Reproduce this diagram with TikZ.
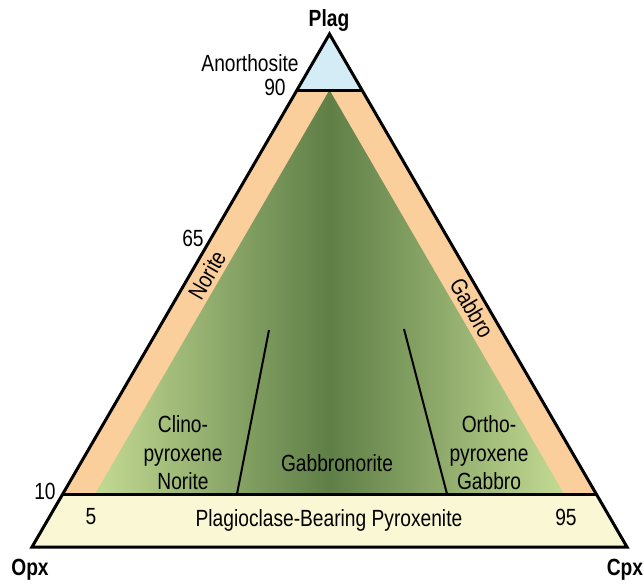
\documentclass[tikz,border=0pt]{standalone}
\usepackage{fontspec}
\setmainfont{Liberation Sans}[FakeStretch=0.82]
\usepackage{tikz}
\usetikzlibrary{calc}
\definecolor{plag-blue}{HTML}{D3ECF5}
\definecolor{band-orange}{HTML}{FBCF9C}
\definecolor{pyx-yellow}{HTML}{FAF7D5}
\definecolor{grn-light}{HTML}{C3DA93}
\definecolor{grn-dark}{HTML}{5F7F47}

\begin{document}
\begin{tikzpicture}[x=0.5pt, y=-0.5pt, font=\fontsize{11.7}{14.2}\selectfont,
    lbl/.style={inner sep=0pt, align=center},
    apexlbl/.style={lbl, font=\fontsize{11.7}{14.2}\selectfont\bfseries},
    edge/.style={line width=1.5pt, line join=miter},
    divide/.style={line width=1pt}]
    \useasboundingbox (0,0) rectangle (644,585);
    % corners and field boundaries
    \coordinate (opx) at (32,547);
    \coordinate (cpx) at (627,547);
    \coordinate (plag) at (329.5,34);
    \coordinate (an-l) at (297,90);
    \coordinate (an-r) at (362,90);
    \coordinate (px-l) at (62.7,494);
    \coordinate (px-r) at (596.3,494);
    \coordinate (gn-l) at (95,494);
    \coordinate (gn-r) at (564,494);
    \coordinate (gn-top) at (329.5,90);
    \coordinate (cpn-bot) at (237,494);
    \coordinate (cpn-top) at (269,330);
    \coordinate (opg-bot) at (447,494);
    \coordinate (opg-top) at (404,329);

    \fill[band-orange] (opx) -- (plag) -- (cpx) -- cycle;
    \fill[plag-blue] (plag) -- (an-l) -- (an-r) -- cycle;
    \fill[pyx-yellow] (opx) -- (px-l) -- (px-r) -- (cpx) -- cycle;
    \shade[left color=grn-light, right color=grn-light, middle color=grn-dark] (gn-l) -- (gn-top) -- (gn-r) -- cycle;

    \draw[edge] (an-l) -- (an-r);
    \draw[edge] (px-l) -- (px-r);
    \draw[divide] (cpn-bot) -- (cpn-top);
    \draw[divide] (opg-bot) -- (opg-top);
    \draw[edge] (opx) -- (plag) -- (cpx) -- cycle;

    % labels
    \node[apexlbl] (plag-lbl) at (329,20) {Plag};
    \node[apexlbl] (opx-lbl) at (30,570) {Opx};
    \node[apexlbl] (cpx-lbl) at (625,570) {Cpx};
    \node[lbl] (anorth) at (250,63) {Anorthosite};
    \node[lbl] (n90) at (275,87) {90};
    \node[lbl] (n65) at (193,238) {65};
    \node[lbl] (n10) at (45,491) {10};
    \node[lbl] (n5) at (91,517) {5};
    \node[lbl] (n95) at (566,517) {95};
    \node[lbl, rotate=60] (norite) at (207,275) {Norite};
    \node[lbl, rotate=-60] (gabbro) at (472,308) {Gabbro};
    \node[lbl] (pyroxenite) at (329,520) {Plagioclase-Bearing Pyroxenite};
    \node[lbl] (cpx-norite) at (183,453) {Clino-\\pyroxene\\Norite};
    \node[lbl] (gabbronorite) at (337,463) {Gabbronorite};
    \node[lbl] (opx-gabbro) at (489,453) {Ortho-\\pyroxene\\Gabbro};
\end{tikzpicture}
\end{document}
